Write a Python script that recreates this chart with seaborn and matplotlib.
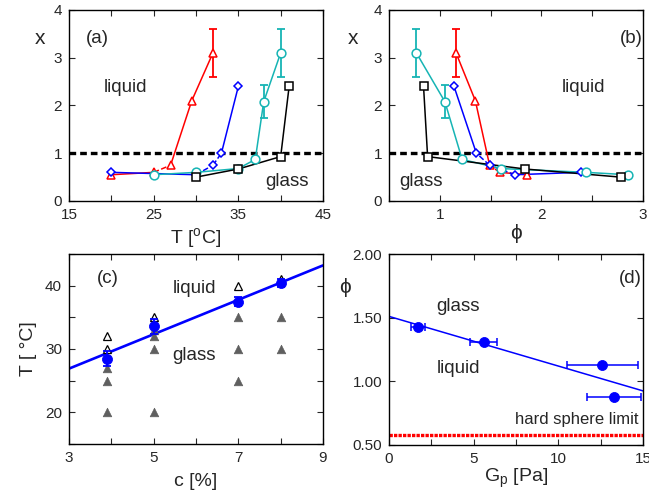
import numpy as np
import pandas as pd
import matplotlib
matplotlib.use("Agg")
import matplotlib.pyplot as plt
import seaborn as sns
from matplotlib.ticker import MultipleLocator, FixedLocator, FormatStrFormatter

# (a)/(b): x against temperature and against phi, one series per sample
red_T = [20, 25, 27, 29.5, 32]
red_phi = [1.86, 1.59, 1.49, 1.35, 1.16]
red_x = [0.55, 0.60, 0.75, 2.10, 3.10]
red_err = [0, 0, 0, 0, 0.5]

blue_T = [20, 30, 32, 33, 35]
blue_phi = [2.39, 1.74, 1.49, 1.36, 1.14]
blue_x = [0.60, 0.55, 0.75, 1.00, 2.40]

cyan_T = [25, 30, 35, 37, 38, 40]
cyan_phi = [2.85, 2.44, 1.60, 1.22, 1.05, 0.77]
cyan_x = [0.55, 0.60, 0.68, 0.87, 2.08, 3.10]
cyan_err = [0, 0, 0, 0, 0.34, 0.5]

black_T = [30, 35, 40, 41]
black_phi = [2.78, 1.84, 0.88, 0.84]
black_x = [0.50, 0.67, 0.93, 2.40]

# (c): state diagram T vs c
liquid_c = [3.9, 3.9, 5, 7, 8]
liquid_T = [32, 30, 35, 40, 41]
glass_c = [3.9, 3.9, 3.9, 5, 5, 5, 5, 7, 7, 7, 8, 8]
glass_T = [27, 25, 20, 33, 32, 30, 20, 35, 30, 25, 35, 30]
trans_c = [3.9, 5, 7, 8]
trans_T = [28.5, 33.6, 37.5, 40.4]
trans_err = [1.2, 1.2, 0.7, 0.6]
fit_c = [3, 9]
fit_T = [26.9, 43.2]

# (d): phi at transition vs Gp
Gp = [1.7, 5.6, 12.6, 13.3]
Gp_err = [0.4, 0.8, 2.1, 1.6]
phi_g = [1.43, 1.31, 1.13, 0.88]
fit_Gp = [0, 15]
fit_phi = [1.51, 0.925]
hs_Gp = [0, 15]
hs_phi = [0.58, 0.58]

RED, BLUE, CYAN, BLACK = "#ff0000", "#0000ff", "#16b4b4", "#000000"

sns.set_style("ticks")
plt.rcParams['font.family'] = ['Liberation Sans', 'DejaVu Sans']
plt.rcParams['mathtext.fontset'] = 'custom'
plt.rcParams['mathtext.rm'] = 'Liberation Sans'

fig = plt.figure(figsize=(6.49, 4.95), dpi=100)
W, H = 649, 495


def axes_at(l, r, t, b):
    return fig.add_axes([l / W, 1 - b / H, (r - l) / W, (b - t) / H])


ax_a = axes_at(69, 323, 10, 201)
ax_b = axes_at(389, 643, 10, 201)
ax_c = axes_at(69, 323, 254, 444)
ax_d = axes_at(389, 643, 254, 445)


def draw_series(ax, xs, ys, color, marker, ms, dashed=(), err=None):
    for i in range(len(xs) - 1):
        seg = pd.DataFrame({'x': xs[i:i + 2], 'y': ys[i:i + 2]})
        sns.lineplot(data=seg, x='x', y='y', color=color, lw=1.1,
                     ls='--' if i in dashed else '-', sort=False,
                     estimator=None, ax=ax, zorder=2)
    if err is not None:
        idx = [i for i, e in enumerate(err) if e > 0]
        ax.errorbar([xs[i] for i in idx], [ys[i] for i in idx],
                    yerr=[err[i] for i in idx], fmt='none', ecolor=color,
                    elinewidth=1.3, capsize=3, capthick=1.3, zorder=2)
    ax.plot(xs, ys, ls='none', marker=marker, ms=ms, mfc='white',
            mec=color, mew=1.1, zorder=3)


for ax, key in [(ax_a, 'T'), (ax_b, 'phi')]:
    src = {'T': (red_T, blue_T, cyan_T, black_T),
           'phi': (red_phi, blue_phi, cyan_phi, black_phi)}[key]
    draw_series(ax, src[0], red_x, RED, '^', 6.3, dashed=(1,), err=red_err)
    draw_series(ax, src[1], blue_x, BLUE, 'D', 4.0, dashed=(1, 2))
    draw_series(ax, src[2], cyan_x, CYAN, 'o', 6.3, err=cyan_err)
    draw_series(ax, src[3], black_x, BLACK, 's', 5.8)
    ax.axhline(1.0, color='black', lw=2.4, dashes=(2.0, 1.2), zorder=1)
    ax.set_ylim(0, 4)
    ax.yaxis.set_major_locator(MultipleLocator(1))

ax_a.set_xlim(15, 45)
ax_a.xaxis.set_major_locator(FixedLocator([15, 25, 35, 45]))
ax_a.xaxis.set_minor_locator(MultipleLocator(5))
ax_a.set_xlabel(r'T [$^\mathregular{o}$C]', fontsize=14)
ax_a.xaxis.set_label_coords(0.5, -0.13)
ax_a.set_ylabel('x', fontsize=15, rotation=0, ha='center', va='center')
ax_a.yaxis.set_label_coords(-0.114, 0.85)
ax_a.text(17.0, 3.4, '(a)', fontsize=13.5, va='center')
ax_a.text(19.1, 2.38, 'liquid', fontsize=13.5, va='center')
ax_a.text(38.2, 0.40, 'glass', fontsize=13.5, va='center')

ax_b.set_xlim(0.5, 3)
ax_b.xaxis.set_major_locator(FixedLocator([1, 2, 3]))
ax_b.xaxis.set_minor_locator(MultipleLocator(0.5))
ax_b.set_xlabel('ϕ', fontsize=15)
ax_b.xaxis.set_label_coords(0.5, -0.12)
ax_b.set_ylabel('x', fontsize=15, rotation=0, ha='center', va='center')
ax_b.yaxis.set_label_coords(-0.142, 0.853)
ax_b.text(2.77, 3.4, '(b)', fontsize=13.5, va='center')
ax_b.text(2.2, 2.38, 'liquid', fontsize=13.5, va='center')
ax_b.text(0.6, 0.40, 'glass', fontsize=13.5, va='center')

# (c)
sns.lineplot(x=fit_c, y=fit_T, color=BLUE, lw=1.9, ax=ax_c, zorder=2)
sns.scatterplot(x=glass_c, y=glass_T, marker='^', s=38, color='#5f5f5f',
                edgecolor='#5f5f5f', ax=ax_c, zorder=3)
ax_c.plot(liquid_c, liquid_T, ls='none', marker='^', ms=5.5, mfc='white',
          mec='black', mew=0.9, zorder=3)
ax_c.errorbar(trans_c, trans_T, yerr=trans_err, fmt='none', ecolor=BLUE,
              elinewidth=1.3, capsize=3, capthick=1.3, zorder=4)
sns.scatterplot(x=trans_c, y=trans_T, marker='o', s=52, color=BLUE,
                edgecolor=BLUE, ax=ax_c, zorder=5)
ax_c.set_xlim(3, 9)
ax_c.set_ylim(15, 45)
ax_c.xaxis.set_major_locator(FixedLocator([3, 5, 7, 9]))
ax_c.xaxis.set_minor_locator(MultipleLocator(1))
ax_c.yaxis.set_major_locator(FixedLocator([20, 30, 40]))
ax_c.yaxis.set_minor_locator(MultipleLocator(5))
ax_c.set_xlabel('c [%]', fontsize=14)
ax_c.xaxis.set_label_coords(0.5, -0.15)
ax_c.set_ylabel('T [ °C]', fontsize=14)
ax_c.yaxis.set_label_coords(-0.126, 0.5)
ax_c.text(3.65, 41.2, '(c)', fontsize=13.5, va='center')
ax_c.text(5.45, 39.5, 'liquid', fontsize=13.5, va='center')
ax_c.text(5.45, 28.9, 'glass', fontsize=13.5, va='center')

# (d)
sns.lineplot(x=hs_Gp, y=hs_phi, color=RED, lw=2.4, dashes=False, ax=ax_d,
             zorder=2).lines[-1].set_dashes((1.0, 0.35))
sns.lineplot(x=fit_Gp, y=fit_phi, color=BLUE, lw=1.1, ax=ax_d, zorder=2)
ax_d.errorbar(Gp, phi_g, xerr=Gp_err, fmt='none', ecolor=BLUE,
              elinewidth=1.1, capsize=3, capthick=1.1, zorder=3)
sns.scatterplot(x=Gp, y=phi_g, marker='o', s=52, color=BLUE,
                edgecolor=BLUE, ax=ax_d, zorder=4)
ax_d.set_xlim(0, 15)
ax_d.set_ylim(0.5, 2.0)
ax_d.xaxis.set_major_locator(FixedLocator([0, 5, 10, 15]))
ax_d.xaxis.set_minor_locator(MultipleLocator(2.5))
ax_d.yaxis.set_major_locator(MultipleLocator(0.5))
ax_d.yaxis.set_major_formatter(FormatStrFormatter('%.2f'))
ax_d.set_xlabel(r'G$_\mathregular{p}$ [Pa]', fontsize=14)
ax_d.xaxis.set_label_coords(0.5, -0.11)
ax_d.set_ylabel('ϕ', fontsize=15, rotation=0, ha='center', va='center')
ax_d.yaxis.set_label_coords(-0.173, 0.827)
ax_d.text(13.6, 1.81, '(d)', fontsize=13.5, va='center')
ax_d.text(2.8, 1.585, 'glass', fontsize=13.5, va='center')
ax_d.text(2.8, 1.10, 'liquid', fontsize=13.5, va='center')
ax_d.text(14.75, 0.70, 'hard sphere limit', fontsize=12, ha='right', va='center')

for ax in (ax_a, ax_b, ax_c, ax_d):
    ax.tick_params(which='both', direction='in', top=True, right=True,
                   length=4, width=0.8, labelsize=11, pad=5)
    for sp in ax.spines.values():
        sp.set_linewidth(1.0)
        sp.set_color('black')
    ax.grid(False)

fig.savefig('out.png', dpi=100)
